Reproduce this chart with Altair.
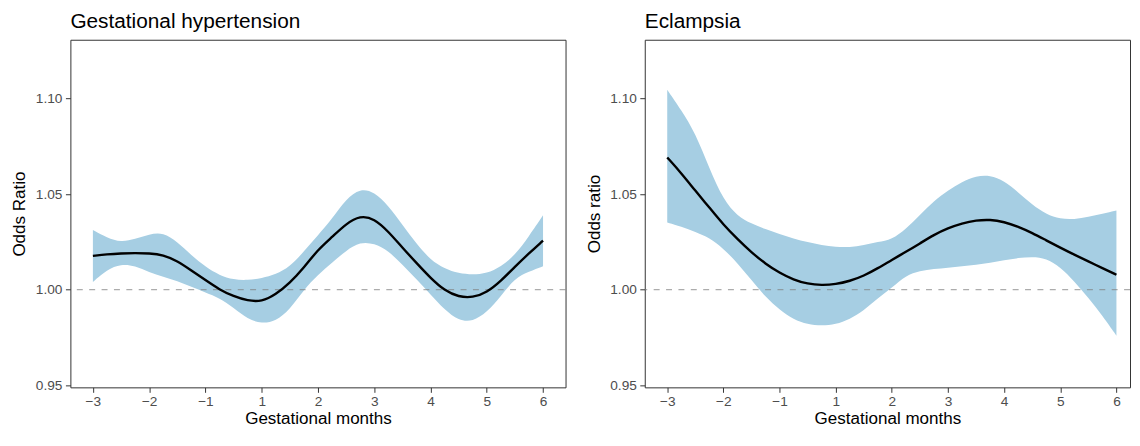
import altair as alt
import pandas as pd

# x positions along the axis (0..8 correspond to months -3,-2,-1,1,...,6)
pos = [0.00, 0.25, 0.50, 0.75, 1.00, 1.25, 1.50, 1.75, 2.00, 2.25, 2.50, 2.75,
       3.00, 3.25, 3.50, 3.75, 4.00, 4.25, 4.50, 4.75, 5.00, 5.25, 5.50, 5.75,
       6.00, 6.25, 6.50, 6.75, 7.00, 7.25, 7.50, 7.75, 8.00]

tick_pos = [0, 1, 2, 3, 4, 5, 6, 7, 8]
tick_labels = ["\u22123", "\u22122", "\u22121", "1", "2", "3", "4", "5", "6"]
y_ticks = [0.95, 1.00, 1.05, 1.10]

# Gestational hypertension
gh_est = [1.0177, 1.0185, 1.0190, 1.0192, 1.0190, 1.0182, 1.0150, 1.0100, 1.0050,
          1.0000, 0.9965, 0.9942, 0.9937, 0.9975, 1.0035, 1.0115, 1.0210, 1.0275,
          1.0345, 1.0388, 1.0372, 1.0305, 1.0220, 1.0140, 1.0061, 0.9995, 0.9962,
          0.9958, 0.9985, 1.0045, 1.0120, 1.0190, 1.0257]
gh_lo = [1.0040, 1.0105, 1.0134, 1.0125, 1.0090, 1.0068, 1.0045, 1.0015, 0.9985,
         0.9957, 0.9905, 0.9845, 0.9822, 0.9835, 0.9895, 1.0000, 1.0078, 1.0140,
         1.0205, 1.0250, 1.0242, 1.0205, 1.0130, 1.0055, 0.9975, 0.9895, 0.9838,
         0.9833, 0.9880, 0.9965, 1.0060, 1.0095, 1.0122]
gh_hi = [1.0312, 1.0272, 1.0248, 1.0265, 1.0290, 1.0300, 1.0250, 1.0180, 1.0120,
         1.0075, 1.0052, 1.0049, 1.0060, 1.0080, 1.0120, 1.0200, 1.0285, 1.0370,
         1.0475, 1.0530, 1.0512, 1.0440, 1.0340, 1.0240, 1.0156, 1.0110, 1.0085,
         1.0078, 1.0085, 1.0120, 1.0180, 1.0280, 1.0389]

# Eclampsia
ec_est = [1.0692, 1.0610, 1.0518, 1.0430, 1.0340, 1.0265, 1.0195, 1.0135, 1.0088,
          1.0052, 1.0030, 1.0023, 1.0028, 1.0045, 1.0072, 1.0112, 1.0156, 1.0198,
          1.0242, 1.0287, 1.0322, 1.0347, 1.0363, 1.0367, 1.0355, 1.0330, 1.0297,
          1.0258, 1.0220, 1.0183, 1.0148, 1.0113, 1.0078]
ec_lo = [1.0351, 1.0330, 1.0302, 1.0272, 1.0215, 1.0140, 1.0050, 0.9962, 0.9895,
         0.9844, 0.9818, 0.9811, 0.9818, 0.9845, 0.9890, 0.9955, 1.0009, 1.0075,
         1.0098, 1.0108, 1.0115, 1.0122, 1.0130, 1.0140, 1.0155, 1.0166, 1.0172,
         1.0165, 1.0118, 1.0044, 0.9957, 0.9865, 0.9759]
ec_hi = [1.1046, 1.0940, 1.0820, 1.0635, 1.0470, 1.0385, 1.0345, 1.0317, 1.0290,
         1.0268, 1.0248, 1.0233, 1.0223, 1.0222, 1.0232, 1.0250, 1.0262, 1.0318,
         1.0390, 1.0465, 1.0520, 1.0565, 1.0595, 1.0600, 1.0570, 1.0510, 1.0445,
         1.0395, 1.0370, 1.0368, 1.0381, 1.0398, 1.0415]

FONT = "Liberation Sans"
Y_DOMAIN = [0.94886, 1.13082]
label_expr = "[" + ",".join("'" + t + "'" for t in tick_labels) + "][round(datum.value)]"


def panel(est, lo, hi, title, ytitle, xdom, width):
    df = pd.DataFrame({"pos": pos, "est": est, "lo": lo, "hi": hi})
    xscale = alt.Scale(domain=xdom, nice=False, zero=False)
    yscale = alt.Scale(domain=Y_DOMAIN, nice=False, zero=False)
    xaxis = alt.Axis(values=tick_pos, labelExpr=label_expr, title="Gestational months",
                     labelPadding=2.6, titlePadding=1.0)
    yaxis = alt.Axis(values=y_ticks, format=".2f", title=ytitle,
                     labelPadding=3.5, titlePadding=2.1, minExtent=40, maxExtent=40)
    base = alt.Chart(df)
    band = base.mark_area(color="#a6cee3", opacity=1, interpolate="basis").encode(
        x=alt.X("pos:Q", scale=xscale, axis=xaxis),
        y=alt.Y("lo:Q", scale=yscale, axis=yaxis),
        y2="hi:Q",
    )
    ref = alt.Chart(pd.DataFrame({"ref": [1.0]})).mark_rule(
        color="#808080", opacity=0.65, strokeDash=[6, 6.5], strokeWidth=1.2
    ).encode(y=alt.Y("ref:Q", scale=yscale, axis=yaxis))
    line = base.mark_line(color="black", strokeWidth=2.4, interpolate="basis").encode(
        x=alt.X("pos:Q", scale=xscale, axis=xaxis),
        y=alt.Y("est:Q", scale=yscale, axis=yaxis),
    )
    return alt.layer(band, ref, line).properties(
        width=width, height=351,
        title=alt.TitleParams(title, anchor="start", frame="group"),
    )


left = panel(gh_est, gh_lo, gh_hi, "Gestational hypertension", "Odds Ratio", [-0.4, 8.4], 500)
right = panel(ec_est, ec_lo, ec_hi, "Eclampsia", "Odds ratio", [-0.4, 8.242], 490)

chart = alt.hconcat(left, right, spacing=17).properties(
    padding={"left": 2, "top": 0, "right": 0, "bottom": 0},
    background="white",
).configure_view(
    stroke="#333333", strokeWidth=1, fill="white"
).configure_axis(
    labelFont=FONT, labelFontSize=13.8, labelColor="#4d4d4d",
    titleFont=FONT, titleFontSize=17.2, titleColor="black", titleFontWeight="normal",
    tickColor="#333333", tickSize=5, tickWidth=1, domain=False, grid=False,
).configure_title(
    font=FONT, fontSize=21, fontWeight="normal", color="black", anchor="start", offset=7.6,
)

chart.save("out.html", embed_options={"renderer": "svg", "actions": False})
